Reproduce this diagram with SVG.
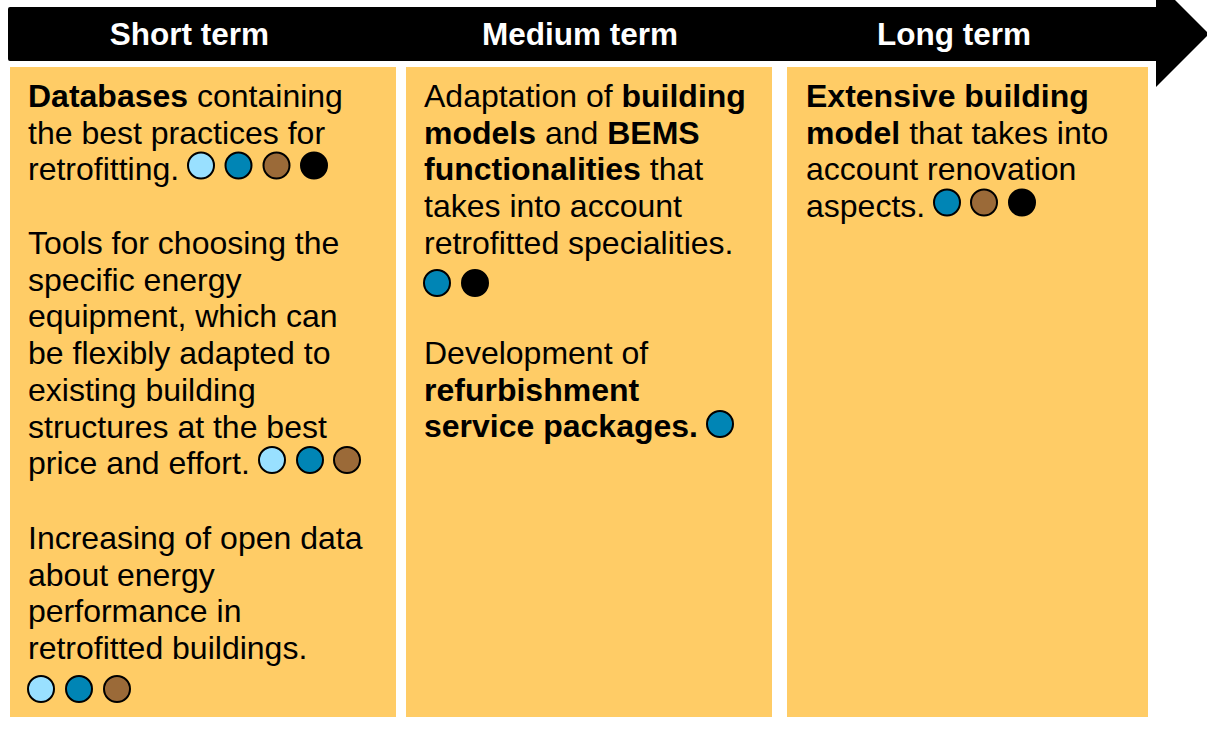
<svg xmlns="http://www.w3.org/2000/svg" width="1207" height="731" viewBox="0 0 1207 731">
<style>
.box{fill:#FFCC66}
.hd{font-family:"Liberation Sans",Arial,sans-serif;font-size:31.5px;font-weight:bold;fill:#fff;text-anchor:middle}
.t{font-family:"Liberation Sans",Arial,sans-serif;font-size:32px;fill:#000}
.b{font-weight:bold}
.c{stroke:#000;stroke-width:2}
.lb{fill:#99E0FF}
.bl{fill:#0085B5}
.br{fill:#9B6A38}
.bk{fill:#000}
</style>
<rect width="1207" height="731" fill="#fff"/>
<g id="timeline">
<path d="M8,9 Q8,7 10,7 L1156,7 L1156,-19 L1209,34 L1156,87 L1156,61 L10,61 Q8,61 8,59 Z" fill="#000"/>
<text class="hd" x="189.5" y="44.5">Short term</text>
<text class="hd" x="580" y="44.5">Medium term</text>
<text class="hd" x="954" y="44.5">Long term</text>
</g>
<g id="short-term">
<rect class="box" x="10" y="67" width="386" height="650"/>
<text class="t" x="28" y="107"><tspan class="b">Databases</tspan> containing</text>
<text class="t" x="28" y="143.7">the best practices for</text>
<text class="t" x="28" y="180.4">retrofitting.</text>
<circle class="c lb" cx="201" cy="165.5" r="13"/>
<circle class="c bl" cx="238.5" cy="165.5" r="13"/>
<circle class="c br" cx="276.5" cy="165.5" r="13"/>
<circle class="c bk" cx="314" cy="165.5" r="13"/>
<text class="t" x="28" y="254">Tools for choosing the</text>
<text class="t" x="28" y="290.7">specific energy</text>
<text class="t" x="28" y="327.4">equipment, which can</text>
<text class="t" x="28" y="364.1">be flexibly adapted to</text>
<text class="t" x="28" y="400.8">existing building</text>
<text class="t" x="28" y="437.5">structures at the best</text>
<text class="t" x="28" y="474.2">price and effort.</text>
<circle class="c lb" cx="272" cy="460" r="13"/>
<circle class="c bl" cx="310" cy="460" r="13"/>
<circle class="c br" cx="347" cy="460" r="13"/>
<text class="t" x="28" y="549">Increasing of open data</text>
<text class="t" x="28" y="585.7">about energy</text>
<text class="t" x="28" y="622.4">performance in</text>
<text class="t" x="28" y="659.1">retrofitted buildings.</text>
<circle class="c lb" cx="41" cy="689" r="13"/>
<circle class="c bl" cx="79" cy="689" r="13"/>
<circle class="c br" cx="117" cy="689" r="13"/>
</g>
<g id="medium-term">
<rect class="box" x="406" y="67" width="366" height="650"/>
<text class="t" x="424" y="107">Adaptation of <tspan class="b">building</tspan></text>
<text class="t" x="424" y="143.7"><tspan class="b">models</tspan> and <tspan class="b">BEMS</tspan></text>
<text class="t" x="424" y="180.4"><tspan class="b">functionalities</tspan> that</text>
<text class="t" x="424" y="217.1">takes into account</text>
<text class="t" x="424" y="253.8">retrofitted specialities.</text>
<circle class="c bl" cx="437" cy="283" r="13"/>
<circle class="c bk" cx="475" cy="283" r="13"/>
<text class="t" x="424" y="364">Development of</text>
<text class="t" x="424" y="400.7" font-weight="bold">refurbishment</text>
<text class="t" x="424" y="437.4" font-weight="bold">service packages.</text>
<circle class="c bl" cx="720" cy="424" r="13"/>
</g>
<g id="long-term">
<rect class="box" x="787" y="67" width="361" height="650"/>
<text class="t" x="806" y="107" font-weight="bold">Extensive building</text>
<text class="t" x="806" y="143.7"><tspan class="b">model</tspan> that takes into</text>
<text class="t" x="806" y="180.4">account renovation</text>
<text class="t" x="806" y="217.1">aspects.</text>
<circle class="c bl" cx="947" cy="202.5" r="13"/>
<circle class="c br" cx="984" cy="202.5" r="13"/>
<circle class="c bk" cx="1022" cy="202.5" r="13"/>
</g>
</svg>
